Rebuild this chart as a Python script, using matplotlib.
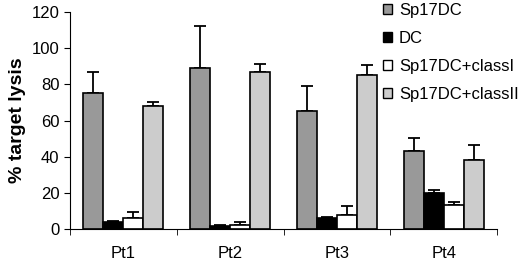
import numpy as np
import matplotlib
matplotlib.use('Agg')
import matplotlib.pyplot as plt
from matplotlib.patches import Patch

plt.rcParams['font.family'] = ['Liberation Sans', 'DejaVu Sans']

patients = ['Pt1', 'Pt2', 'Pt3', 'Pt4']
series = ['Sp17DC', 'DC', 'Sp17DC+classI', 'Sp17DC+classII']
colors = ['#999999', '#000000', '#ffffff', '#cccccc']

# mean lysis and upper error (SD) per series, per patient
sp17dc = [75, 89, 65, 43]
sp17dc_err = [12, 23, 14, 7.5]
dc = [4, 1.5, 6, 20]
dc_err = [0.7, 0.6, 0.7, 1.8]
classI = [6, 2, 8, 13]
classI_err = [3.5, 1.6, 4.6, 2]
classII = [68, 87, 85, 38]
classII_err = [2, 4.5, 5.5, 8.3]

values = [sp17dc, dc, classI, classII]
errors = [sp17dc_err, dc_err, classI_err, classII_err]

fig = plt.figure(figsize=(5.2, 2.61), dpi=100)
ax = fig.add_axes([0.1346, 0.1226, 0.8214, 0.8314])

x = np.arange(len(patients))
w = 0.1875
for i, (vals, errs) in enumerate(zip(values, errors)):
    pos = x + (i - 1.5) * w
    ax.bar(pos, vals, width=w, color=colors[i], edgecolor='black', linewidth=1.2, zorder=2)
    ax.errorbar(pos, vals, yerr=[np.zeros(len(errs)), errs], fmt='none',
                ecolor='black', elinewidth=1.3, capsize=4.5, capthick=1.3, zorder=1)

ax.set_xlim(-0.5, 3.5)
ax.set_ylim(0, 120)
ax.set_yticks(np.arange(0, 121, 20))
ax.set_xticks(x)
ax.set_xticklabels(patients)
ax.set_xticks(np.arange(-0.5, 3.6, 1), minor=True)
ax.tick_params(axis='x', which='major', length=0, pad=12, labelsize=12)
ax.tick_params(axis='x', which='minor', length=4, direction='out')
ax.tick_params(axis='y', length=4, direction='out', labelsize=12)
for s in ['top', 'right']:
    ax.spines[s].set_visible(False)
ax.set_ylabel('% target lysis', fontsize=14, fontweight='bold', labelpad=4)

handles = [Patch(facecolor=c, edgecolor='black', linewidth=1.0) for c in colors]
fig.legend(handles, series, loc='upper left', bbox_to_anchor=(0.724, 1.015),
           frameon=False, fontsize=12, handlelength=0.55, handleheight=0.55,
           handletextpad=0.4, labelspacing=0.78, borderaxespad=0)

fig.savefig('out.png', dpi=100)
